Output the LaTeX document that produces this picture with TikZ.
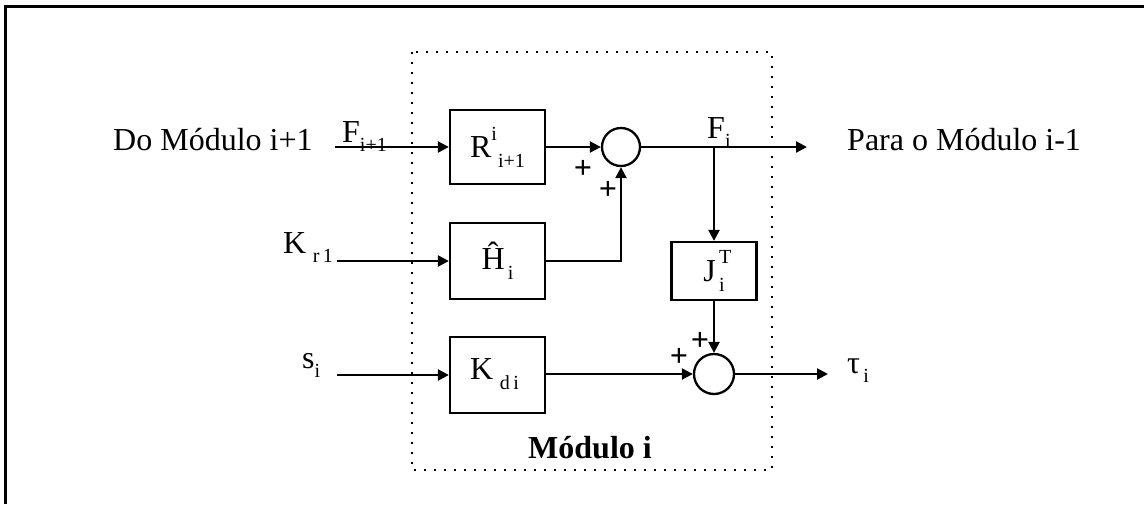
\documentclass[tikz,border=0pt]{standalone}
\usepackage{fontspec}
\setmainfont{Liberation Serif}
\usetikzlibrary{arrows.meta}
\newcommand\lo[1]{\raisebox{-0.3em}{\fontsize{20}{20}\selectfont #1}}
\newcommand\hi[1]{\raisebox{0.55em}{\fontsize{20}{20}\selectfont #1}}
\tikzset{
  blk/.style={draw, line width=2.3pt, minimum width=95pt, minimum height=75pt, inner sep=0pt, font=\fontsize{32}{34}\selectfont},
  sumc/.style={draw, circle, line width=2.3pt, minimum size=38pt, inner sep=0pt},
  conn/.style={line width=2.3pt, -{Triangle[length=11pt,width=11pt]}},
  lbl/.style={inner sep=0pt, font=\fontsize{32}{34}\selectfont},
  sgn/.style={inner sep=0pt, font=\fontsize{32}{34}\selectfont\bfseries}
}
\begin{document}
\begin{tikzpicture}[x=1pt,y=-1pt]
\useasboundingbox (0,0) rectangle (1144,504);
% outer frame (top and left edges)
\draw[line width=3pt] (1144,6) -- (5,6) -- (5,504);
% dotted module box
\draw[line width=2.5pt, dash pattern=on 2pt off 8pt] (412,52) rectangle (772,470);
\node[lbl, font=\fontsize{32}{34}\selectfont\bfseries] (mod) at (590,448) {Módulo i};

% blocks
\node[blk, minimum height=74pt] (R) at (497.5,147) {R\makebox[0pt][l]{\hi{i}}\lo{\,\,i+1}};
\node[blk, minimum height=76pt] (H) at (497.5,261) {\^{H}\lo{\,i}};
\node[blk, minimum height=76pt] (K) at (497.5,375) {\raisebox{0.35em}{K\lo{\,\,d\,i}}\kern6pt};
\node[blk, minimum width=85pt, minimum height=58pt] (J) at (714,271) {J\makebox[0pt][l]{\hi{\,T}}\lo{\,i}};
\node[sumc] (s1) at (621,147) {};
\node[sumc, minimum size=40pt] (s2) at (714,374) {};

% free ends
\coordinate (inF) at (335,147);
\coordinate (inK) at (337,261);
\coordinate (inS) at (337,375);
\coordinate (br) at (714,147);
\coordinate (outF) at (807,147);
\coordinate (outT) at (828,374);

% connectors
\draw[conn] (inF) -- (R.west);
\draw[conn] (inK) -- (H.west);
\draw[conn] (inS) -- (K.west);
\draw[conn] (R.east) -- (s1.west);
\draw[conn] (H.east) -| (s1.south);
\draw[conn] (s1.east) -- (outF);
\draw[conn] (br) -- (J.north);
\draw[conn] (J.south) -- (s2.north);
\draw[conn] (K.east |- s2.west) -- (s2.west);
\draw[conn] (s2.east) -- (outT);

% labels
\node[lbl, anchor=base west] (tDo) at (113,150) {Do Módulo i+1};
\node[lbl, anchor=base west] (tFi1) at (342,142) {F\lo{i+1}};
\node[lbl, anchor=base west] (tFi) at (707,138) {F\lo{i}};
\node[lbl, anchor=base west] (tPara) at (847,150) {Para o Módulo i-1};
\node[lbl, anchor=base west] (tKr) at (283,253) {K\lo{\,\,r\,1}};
\node[lbl, anchor=base west] (tS) at (302,368) {s\lo{i}};
\node[lbl, anchor=base west] (tTau) at (847,373) {τ\lo{\,i}};

% signs
\node[sgn] (p1) at (583,169) {+};
\node[sgn] (p2) at (608,190) {+};
\node[sgn] (p3) at (679,357) {+};
\node[sgn] (p4) at (700,341) {+};
\end{tikzpicture}
\end{document}
